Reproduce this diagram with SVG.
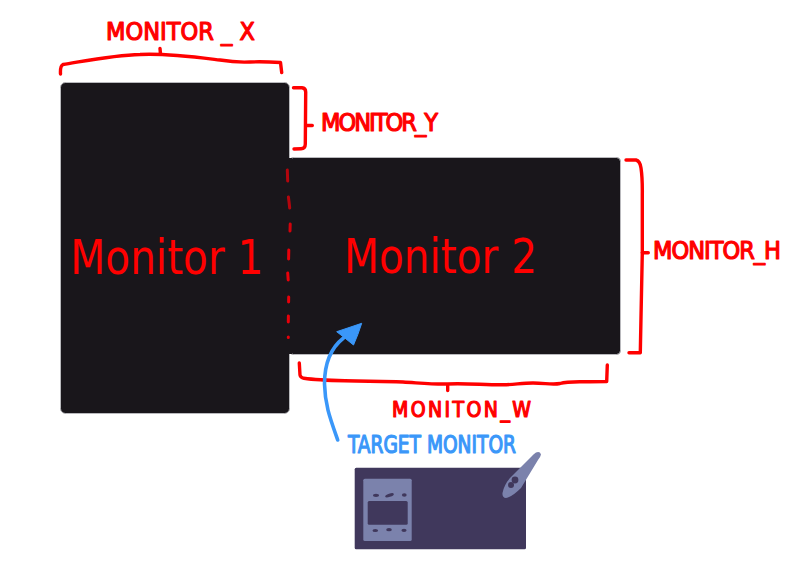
<svg xmlns="http://www.w3.org/2000/svg" width="800" height="569" viewBox="0 0 800 569">
<style>
.mon{fill:#19161b;stroke:#b9b9bd;stroke-width:1}
.big{font-family:"DejaVu Sans",sans-serif;font-size:40.6px;fill:#ff0000}
.hand{font-family:"Liberation Sans Narrow","DejaVu Sans Condensed","Liberation Sans",sans-serif;font-size:25px;stroke-width:1.2;stroke-linejoin:round}
.red{fill:#ff0000;stroke:#ff0000}
.blue{fill:#3a97f9;stroke:#3a97f9}
.br{fill:none;stroke:#ff0000;stroke-width:3.4;stroke-linecap:round;stroke-linejoin:round}
.dash{fill:none;stroke:#e8000a;stroke-width:3;stroke-linecap:round}
.pad{fill:#7b82ac}
.key{fill:#40385c}
</style>
<rect width="800" height="569" fill="#fff"/>
<g id="monitor-1">
<rect class="mon" x="60.5" y="82.5" width="229" height="331" rx="5"/>
</g>
<g id="monitor-2">
<rect class="mon" x="289.5" y="157.5" width="331" height="197" rx="4"/>
<rect x="284" y="158" width="8" height="196" fill="#19161b"/>
</g>
<text class="big" transform="translate(70.3 273.5) scale(1 1.16)">Monitor 1</text>
<text class="big" transform="translate(344 272.5) scale(1 1.16)">Monitor 2</text>
<g id="connectors">
<path class="dash" opacity=".75" d="M287.3 170L287.7 181"/>
<path class="dash" opacity=".75" d="M288.4 197Q289.2 203 289.7 208"/>
<path class="dash" opacity=".9" d="M290.2 224L290 231"/>
<path class="dash" d="M288.8 250L288.6 259M287.7 273L288.2 280M288.7 297L288.6 302M288.4 316L288.3 322M288.3 337L288.3 337.5"/>
<path class="br" d="M60.5 74Q60 66 63 64.5C85 61 115 55 140 54.5C165 53 195 57 220 60C232 62 240 62.5 250 62C262 61.5 272 62 280.5 62.5L281.7 72.5M160 48.5L160.5 54"/>
<path class="br" d="M293.5 87.7L302 87.7Q305.7 88 305.7 92L305.3 144Q305.3 148.5 301 148.7L294 149M305.7 125.5L312.3 125.5"/>
<path class="br" d="M299.3 363L300 375Q300.5 377.5 304 378.3C315 380 330 380.5 345 380.8C370 381 385 381.5 403 382C420 383 435 384.5 447.5 384C465 383 485 385 503 384.8C515 384.5 522 383 533 383C545 383 552 385 560 383.5C568 381 578 381.8 590 381.8L606.7 381.5L607.3 365M447.7 385L447.7 390.5"/>
<path class="br" d="M626 160L636 160Q640 161 641 168Q642.5 178 642.3 195L642.3 253L641 317L640.3 352.7L629 352.7M642 252.7L648.3 252.7"/>
<path d="M337.7 440C330 418 325 405 324.5 384C324.5 362 332 347 343.5 338" fill="none" stroke="#3a97f9" stroke-width="3.6" stroke-linecap="round"/>
<path d="M361.7 323.3L336.7 331.7Q345 338 353.5 345Q358 335 361.7 323.3Z" fill="#3a97f9" stroke="#3a97f9" stroke-width="1" stroke-linejoin="round"/>
</g>
<g id="label-monitor-x"><text class="hand red" x="106" y="40" textLength="149">MONITOR _ X</text></g>
<g id="label-monitor-y"><text class="hand red" x="321" y="131" textLength="117">MONITOR_Y</text></g>
<g id="label-monitor-h"><text class="hand red" x="653" y="259" textLength="128">MONITOR_H</text></g>
<g id="label-monitor-w"><text class="hand red" x="392" y="417" style="font-size:21px" textLength="139">MONITON_W</text></g>
<g id="label-target"><text class="hand blue" x="348" y="453" textLength="168" lengthAdjust="spacingAndGlyphs">TARGET MONITOR</text></g>
<g id="tablet">
<rect x="354.7" y="467.7" width="171.3" height="81.6" rx="1.5" fill="#40385c"/>
<rect class="pad" x="363.3" y="478.7" width="48.4" height="62.3" rx="1.5"/>
<rect class="key" x="367.7" y="501" width="40" height="23.7" rx="1.5"/>
<ellipse class="key" cx="376" cy="495.3" rx="3" ry="1.6"/>
<ellipse class="key" cx="389.5" cy="495.3" rx="4.5" ry="1.6" transform="rotate(-18 389.5 495.3)"/>
<ellipse class="key" cx="404.3" cy="495" rx="2.4" ry="1.7"/>
<ellipse class="key" cx="375.3" cy="530.5" rx="2.8" ry="1.6"/>
<ellipse class="key" cx="389" cy="529.7" rx="2.8" ry="1.6"/>
<ellipse class="key" cx="404" cy="530.3" rx="2.6" ry="1.6"/>
<path class="pad" d="M536 452.5Q540 451 541 454.5Q540.5 457 538 460L521 488Q512 497 506 498Q502 497.5 502.5 493Q504 485 510 478L532 456Q534 453.5 536 452.5Z"/>
<circle class="key" cx="515" cy="480" r="3.4"/>
<circle class="key" cx="511" cy="485" r="3"/>
</g>
</svg>
